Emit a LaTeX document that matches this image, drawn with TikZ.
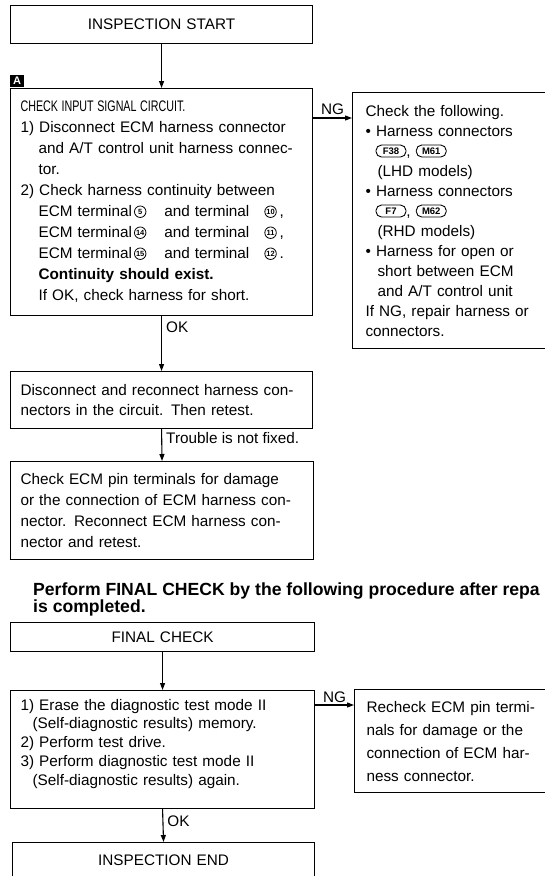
\documentclass[tikz,border=0pt]{standalone}
\usepackage{fontspec}
\usepackage{graphicx}
\setmainfont{Liberation Sans}
\usetikzlibrary{arrows.meta,calc}

\newcommand{\fs}{\fontsize{15.3}{21}\selectfont}
\newcommand{\cnum}[1]{\tikz[baseline={([yshift=-5.2pt]cn.center)}]\node[draw,circle,line width=0.8pt,inner sep=0pt,minimum size=11.5pt,text width={},align=center,anchor=center,fill=none,text=black,font=\fontsize{7.5}{8}\selectfont\bfseries](cn){#1};}
\newcommand{\badge}[1]{\tikz[baseline={([yshift=-5pt]bd.center)}]\node[draw,rounded corners=5.5pt,line width=0.9pt,inner sep=0pt,minimum height=12pt,minimum width=30pt,text width={},align=center,anchor=center,fill=none,text=black,font=\fontsize{9.5}{10}\selectfont\bfseries](bd){#1};}

\begin{document}
\begin{tikzpicture}[x=1pt,y=-1pt,
  box/.style={draw,line width=1.1pt,anchor=north west,inner xsep=10pt,inner ysep=0pt,
              align=left,font=\fs,text=black},
  arr/.style={line width=1.1pt,-{Triangle[length=7pt,width=5pt]}},
  lbl/.style={font=\fs,inner sep=1pt,text=black},
  hdr/.style={anchor=base west,inner sep=0pt,font=\fontsize{17.6}{20}\selectfont\bfseries}]
\useasboundingbox (0,0) rectangle (545,876);
\clip (0,0) rectangle (545,876);

% boxes
\node[box,minimum width=302pt,minimum height=38pt,text width=282pt,align=center] (start) at (10,5) {INSPECTION START};

\node[fill=black,text=white,font=\fontsize{11}{11}\selectfont\bfseries,minimum width=14pt,minimum height=12pt,inner sep=0pt,anchor=north west] (mark) at (10,75) {A};

\node[box,minimum width=302pt,minimum height=227pt,text width=282pt] (chk) at (10,88) {%
\scalebox{0.7}[1]{CHECK INPUT SIGNAL CIRCUIT.}\\
1) Disconnect ECM harness connector\\
\hspace*{18pt}and A/T control unit harness connec-\\
\hspace*{18pt}tor.\\
2) Check harness continuity between\\
\hspace*{18pt}ECM terminal\hspace{2pt}\cnum{5}\hspace{18pt}and terminal\hspace{15pt}\cnum{10}\hspace{3pt},\\
\hspace*{18pt}ECM terminal\hspace{2pt}\cnum{14}\hspace{18pt}and terminal\hspace{15pt}\cnum{11}\hspace{3pt},\\
\hspace*{18pt}ECM terminal\hspace{2pt}\cnum{15}\hspace{18pt}and terminal\hspace{15pt}\cnum{12}\hspace{3pt}.\\
\hspace*{18pt}\textbf{Continuity should exist.}\\
\hspace*{18pt}If OK, check harness for short.};

\node[box,minimum width=200pt,minimum height=256pt,inner xsep=13pt,text width=174pt,font=\fontsize{15.3}{20}\selectfont] (chkng) at (352,92) {%
Check the following.\\
\textbullet\ Harness connectors\\
\hspace*{10pt}\badge{F38}, \badge{M61}\\
\hspace*{12pt}(LHD models)\\
\textbullet\ Harness connectors\\
\hspace*{10pt}\badge{F7}, \badge{M62}\\
\hspace*{12pt}(RHD models)\\
\textbullet\ Harness for open or\\
\hspace*{12pt}short between ECM\\
\hspace*{12pt}and A/T control unit\\
If NG, repair harness or\\
connectors.};

\node[box,minimum width=302pt,minimum height=57pt,text width=282pt,font=\fontsize{15.3}{20}\selectfont] (disc) at (10,371) {%
Disconnect and reconnect harness con-\\
nectors in the circuit. Then retest.};

\node[box,minimum width=303pt,minimum height=98pt,text width=283pt] (ecm) at (10,461) {%
Check ECM pin terminals for damage\\
or the connection of ECM harness con-\\
nector. Reconnect ECM harness con-\\
nector and retest.};

\node[hdr] (hdr1) at (33,595) {Perform FINAL CHECK by the following procedure after repa};
\node[hdr] (hdr2) at (33,612) {is completed.};

\node[box,minimum width=304pt,minimum height=29pt,text width=284pt,align=center] (fin) at (10,622) {FINAL CHECK};

\node[box,minimum width=304pt,minimum height=118pt,text width=284pt,font=\fontsize{15.3}{18.75}\selectfont,text depth=90pt] (erase) at (10,690) {%
1) Erase the diagnostic test mode II\\
\hspace*{12pt}(Self-diagnostic results) memory.\\
2) Perform test drive.\\
3) Perform diagnostic test mode II\\
\hspace*{12pt}(Self-diagnostic results) again.};

\node[box,minimum width=200pt,minimum height=103pt,inner xsep=12pt,text width=176pt,font=\fontsize{15.3}{23}\selectfont] (recheck) at (354,689) {%
Recheck ECM pin termi-\\
nals for damage or the\\
connection of ECM har-\\
ness connector.};

\node[box,minimum width=302pt,minimum height=36pt,text width=282pt,align=center] (end) at (12,842) {INSPECTION END};

% connectors
\coordinate (ng1) at (0,118);
\coordinate (ng2) at (0,705);
\draw[arr] (start.south) -- (chk.north);
\draw[arr] (chk.east |- ng1) -- node[lbl,above=2pt] (ngA) {NG} (chkng.west |- ng1);
\draw[arr] (chk.south) -- node[lbl,right=3pt,pos=0.21] (okA) {OK} (disc.north);
\draw[arr] (disc.south) -- node[lbl,right=3pt,pos=0.27] (tnf) {Trouble is not fixed.} (ecm.north);
\draw[arr] (fin.south) -- (erase.north);
\draw[arr] (erase.east |- ng2) -- node[lbl,above=1pt] (ngB) {NG} (recheck.west |- ng2);
\draw[arr] (erase.south) -- node[lbl,right=3pt,pos=0.38] (okB) {OK} (end.north);
\end{tikzpicture}
\end{document}
